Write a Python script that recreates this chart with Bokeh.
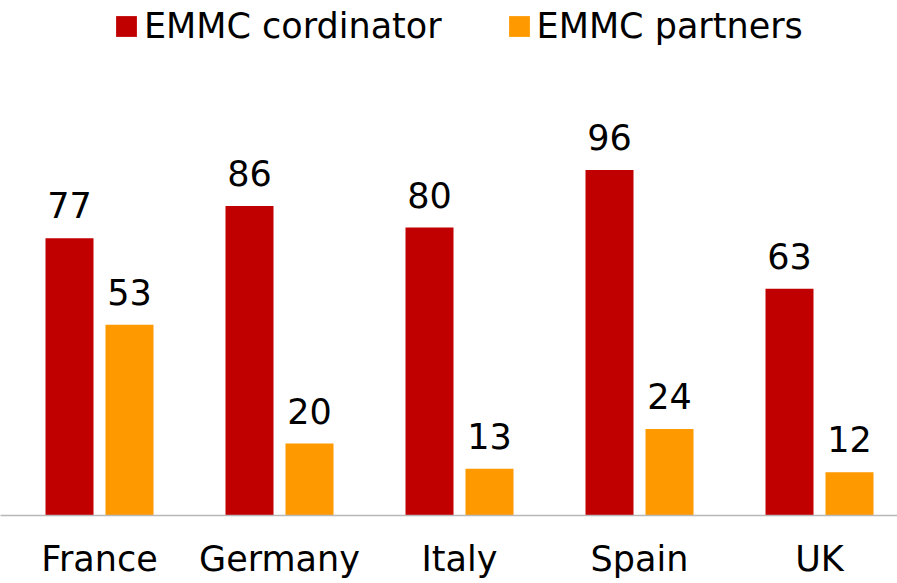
from bokeh.plotting import figure
from bokeh.models import ColumnDataSource, Legend, LegendItem, FixedTicker, Range1d
from bokeh.transform import dodge
from bokeh.core.properties import value
from bokeh.embed import file_html
from bokeh.resources import INLINE

countries = ["France", "Germany", "Italy", "Spain", "UK"]
coordinator = [77, 86, 80, 96, 63]
partners = [53, 20, 13, 24, 12]
series_names = ["EMMC cordinator", "EMMC partners"]

RED = "#C00000"
ORANGE = "#FF9900"
FONT = "DejaVu Sans"
FS = "35px"

idx = list(range(len(countries)))
src = ColumnDataSource(dict(
    x=idx,
    coord=coordinator,
    part=partners,
    coord_lbl=[str(v) for v in coordinator],
    part_lbl=[str(v) for v in partners],
))

p = figure(width=897, height=583, output_backend="svg", toolbar_location=None,
           x_range=Range1d(-0.55, 4.4333), y_range=Range1d(0, 143.06),
           min_border_left=0, min_border_right=0, min_border_top=0, min_border_bottom=68)
p.outline_line_color = None
p.xgrid.visible = False
p.ygrid.visible = False
p.yaxis.visible = False
p.background_fill_color = "white"

off = 30 / 180
bw = 48 / 180
r1 = p.vbar(x=dodge("x", -off), top="coord", width=bw, source=src, fill_color=RED, line_color=None)
r2 = p.vbar(x=dodge("x", off), top="part", width=bw, source=src, fill_color=ORANGE, line_color=None)

p.text(x=dodge("x", -off), y="coord", text="coord_lbl", source=src, y_offset=-33,
       text_align="center", text_baseline="alphabetic", text_font=value(FONT),
       text_font_size=FS, text_color="black")
p.text(x=dodge("x", off), y="part", text="part_lbl", source=src, y_offset=-33,
       text_align="center", text_baseline="alphabetic", text_font=value(FONT),
       text_font_size=FS, text_color="black")

ax = p.xaxis[0]
ax.ticker = FixedTicker(ticks=idx)
ax.major_label_overrides = {i: c for i, c in zip(idx, countries)}
ax.major_tick_line_color = None
ax.minor_tick_line_color = None
ax.axis_line_color = "#b8b8b8"
ax.axis_line_width = 1.5
ax.major_label_text_font = FONT
ax.major_label_text_font_size = FS
ax.major_label_text_color = "black"
ax.major_label_standoff = 17

legend = Legend(items=[LegendItem(label=series_names[0], renderers=[r1]),
                       LegendItem(label=series_names[1], renderers=[r2])],
                orientation="horizontal", location=(113, 469),
                glyph_width=26, glyph_height=26, label_standoff=5, spacing=64,
                label_text_font=FONT, label_text_font_size=FS, label_text_color="black",
                padding=0, margin=0, border_line_color=None, background_fill_alpha=0)
p.add_layout(legend)

open("out.html", "w").write(file_html(p, INLINE))
